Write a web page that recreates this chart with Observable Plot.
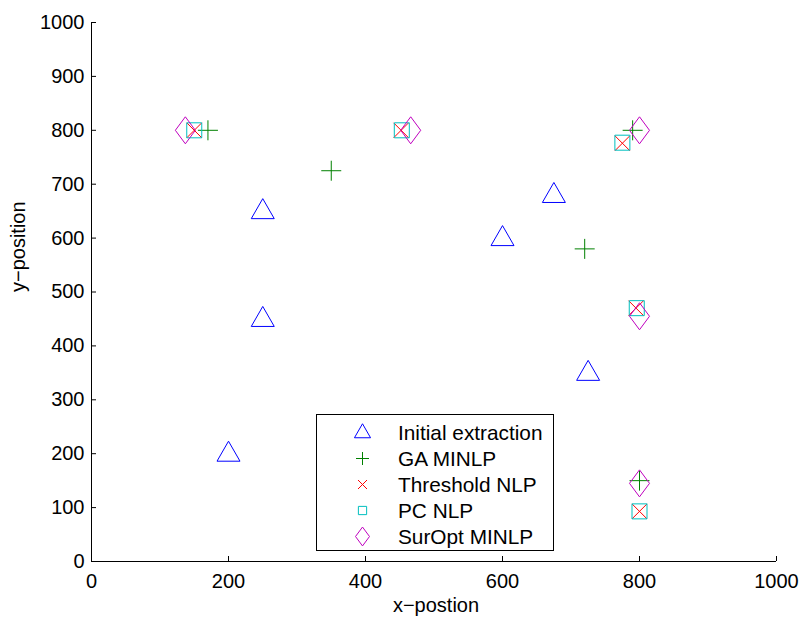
<!DOCTYPE html>
<html><head><meta charset="utf-8">
<script src="https://cdn.jsdelivr.net/npm/d3@7"></script>
<script src="https://cdn.jsdelivr.net/npm/@observablehq/plot@0.6"></script>
<style>
body{margin:0;background:#fff;font-family:"Liberation Sans",Arial,sans-serif;}
#wrap{position:relative;width:803px;height:617px;}
#legend{position:absolute;left:316px;top:414px;}
</style></head><body><div id="wrap"></div>
<script>
// ---- data ----
const seriesNames = ["Initial extraction", "GA MINLP", "Threshold NLP", "PC NLP", "SurOpt MINLP"];
const seriesColors = ["#0000ff", "#008000", "#ff0000", "#00bfbf", "#bf00bf"];
const initialX = [200, 250, 250, 600, 675, 725];
const initialY = [200, 450, 650, 600, 680, 350];
const gaX = [170, 350, 720, 790, 800];
const gaY = [800, 725, 580, 800, 150];
const thrX = [150, 452, 775, 795, 800];
const thrY = [800, 800, 776, 470, 93];
const pcX = [150, 453, 775, 796, 800];
const pcY = [800, 800, 777, 470, 93];
const surX = [137, 466, 800, 800, 800];
const surY = [800, 800, 800, 455, 145];
const xTicks = [0, 200, 400, 600, 800, 1000];
const yTicks = [0, 100, 200, 300, 400, 500, 600, 700, 800, 900, 1000];

// ---- marker shapes (MATLAB-like, defined at r = 10) ----
function mk(fn){ return {draw(ctx, size){ const s = Math.sqrt(size/Math.PI)/10; fn(ctx, s); }}; }
const symTriangle = mk((c,s)=>{ c.moveTo(0,-12.5*s); c.lineTo(11.5*s,7.5*s); c.lineTo(-11.5*s,7.5*s); c.closePath(); });
const symPlus = mk((c,s)=>{ c.moveTo(-10*s,0); c.lineTo(10*s,0); c.moveTo(0,-10*s); c.lineTo(0,10*s); });
const symTimes = mk((c,s)=>{ c.moveTo(-7.5*s,-7.5*s); c.lineTo(7.5*s,7.5*s); c.moveTo(7.5*s,-7.5*s); c.lineTo(-7.5*s,7.5*s); });
const symSquare = mk((c,s)=>{ c.rect(-7.5*s,-7.5*s,15*s,15*s); });
const symDiamond = mk((c,s)=>{ c.moveTo(0,-13.5*s); c.lineTo(10*s,0); c.lineTo(0,13.5*s); c.lineTo(-10*s,0); c.closePath(); });
const symbols = [symTriangle, symPlus, symTimes, symSquare, symDiamond];
const legendScale = [0.7, 0.65, 0.6, 0.55, 0.7];

const seriesXY = [[initialX, initialY], [gaX, gaY], [thrX, thrY], [pcX, pcY], [surX, surY]];
const tables = seriesXY.map(([xs, ys]) => xs.map((x, i) => ({x, y: ys[i]})));

const font = '"Liberation Sans", Arial, sans-serif';

const chart = Plot.plot({
  width: 803, height: 617,
  marginLeft: 91, marginRight: 27, marginTop: 22, marginBottom: 56,
  style: {fontFamily: font, fontSize: "20px", color: "#000", background: "#fff", overflow: "visible"},
  x: {domain: [0, 1000], axis: null},
  y: {domain: [0, 1000], axis: null},
  marks: [
    Plot.axisX(xTicks, {tickSize: -5, tickPadding: 17, label: null, tickFormat: d => String(d), fontSize: 20}),
    Plot.axisY(yTicks, {tickSize: -5, tickPadding: 12, label: null, tickFormat: d => String(d), fontSize: 20}),
    Plot.ruleY([0], {stroke: "#000"}),
    Plot.ruleX([0], {stroke: "#000"}),
    ...tables.map((t, i) => Plot.dot(t, {x: "x", y: "y", r: 10, symbol: symbols[i], fill: "none", stroke: seriesColors[i], strokeWidth: 1})),
    Plot.text(["x\u2212postion"], {frameAnchor: "bottom", dy: 44, dx: 2, fontSize: 20, fill: "#000", lineAnchor: "middle"}),
    Plot.text(["y\u2212position"], {frameAnchor: "left", dx: -73, rotate: -90, fontSize: 20, fill: "#000", lineAnchor: "middle"})
  ]
});
const wrap = document.getElementById("wrap");
wrap.appendChild(chart);

// ---- legend ----
const lw = 237, lh = 136;
const leg = d3.create("svg").attr("id", "legend").attr("width", lw + 1).attr("height", lh + 1);
leg.append("rect").attr("x", 0.5).attr("y", 0.5).attr("width", lw).attr("height", lh)
  .attr("fill", "#fff").attr("stroke", "#000").attr("stroke-width", 1);
seriesNames.forEach((name, i) => {
  const cy = 18.5 + i * 26;
  const r = 10 * legendScale[i];
  leg.append("path").attr("d", d3.symbol(symbols[i], Math.PI * r * r)())
    .attr("transform", `translate(46.5,${cy})`).attr("fill", "none")
    .attr("stroke", seriesColors[i]).attr("stroke-width", 1);
  leg.append("text").attr("x", 82).attr("y", cy).attr("dy", "0.36em")
    .attr("font-family", font).attr("font-size", 20.8).attr("fill", "#000").text(name);
});
wrap.appendChild(leg.node());
</script></body></html>
